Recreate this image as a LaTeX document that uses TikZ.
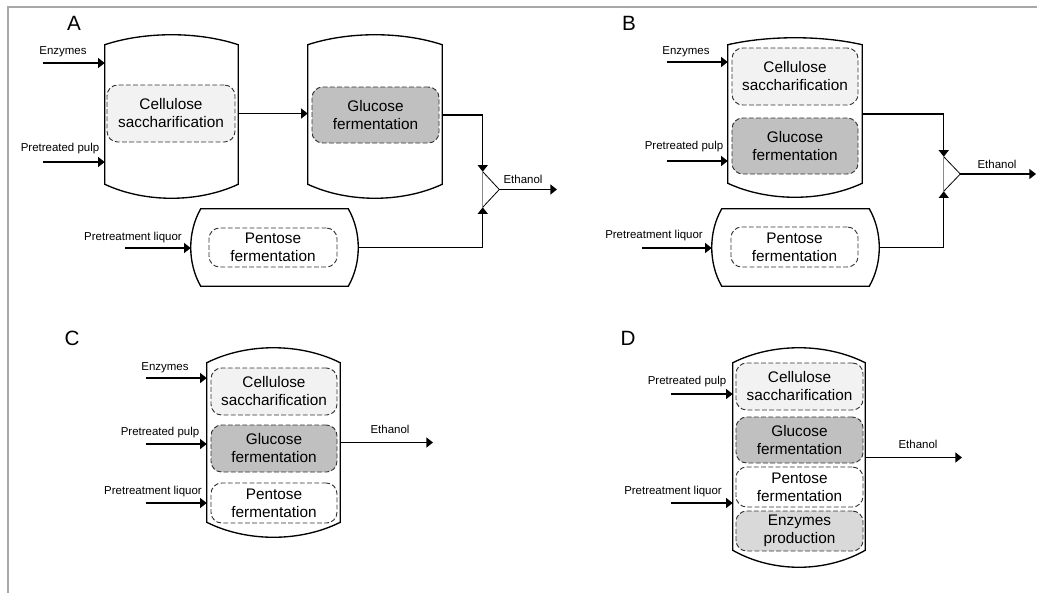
\documentclass[tikz,border=0pt]{standalone}
\usepackage{fontspec}
\setmainfont{Liberation Sans}
\usetikzlibrary{arrows.meta,calc}

\definecolor{sacgray}{HTML}{F2F2F2}
\definecolor{glugray}{HTML}{C0C0C0}
\definecolor{enzgray}{HTML}{D9D9D9}
\definecolor{framegray}{HTML}{A8A8A8}

% upright tank round a node: name, top bulge, bottom bulge (px)
\newcommand{\vtank}[3]{%
  \draw[vessel] ($(#1.north west)+(0,#2)$)
    .. controls ($(#1.north west)!.3!(#1.north east)+(0,-#2/3)$)
           and ($(#1.north west)!.7!(#1.north east)+(0,-#2/3)$) .. ($(#1.north east)+(0,#2)$)
    -- ($(#1.south east)+(0,-#3)$)
    .. controls ($(#1.south east)!.3!(#1.south west)+(0,#3/3)$)
           and ($(#1.south east)!.7!(#1.south west)+(0,#3/3)$) .. ($(#1.south west)+(0,-#3)$)
    -- cycle;}
% lying tank round a node: name, side bulge (px)
\newcommand{\htank}[2]{%
  \draw[vessel] ($(#1.north west)+(#2,0)$) -- ($(#1.north east)+(-#2,0)$)
    .. controls ($(#1.north east)!.3!(#1.south east)+(#2/3,0)$)
           and ($(#1.north east)!.7!(#1.south east)+(#2/3,0)$) .. ($(#1.south east)+(-#2,0)$)
    -- ($(#1.south west)+(#2,0)$)
    .. controls ($(#1.south west)!.3!(#1.north west)+(-#2/3,0)$)
           and ($(#1.south west)!.7!(#1.north west)+(-#2/3,0)$) .. ($(#1.north west)+(#2,0)$)
    -- cycle;}

\begin{document}
\begin{tikzpicture}[x=0.75pt, y=-0.75pt, font=\fontsize{8.6}{10}\selectfont,
  dims/.style 2 args={minimum width=#1*0.75pt, minimum height=#2*0.75pt, inner sep=0pt},
  vessel/.style={line width=1pt},
  feed/.style={line width=1pt, -{Triangle[length=5pt, width=7.5pt]}},
  stage/.style={draw=black!80, line width=0.7pt, dash pattern=on 3.6pt off 1.8pt,
    rounded corners=8pt, align=center, font=\fontsize{11.5}{13.5}\selectfont},
  sac/.style={stage, fill=sacgray},
  glu/.style={stage, fill=glugray},
  pen/.style={stage, fill=white},
  enz/.style={stage, fill=enzgray},
  panel/.style={font=\fontsize{15.5}{18}\selectfont}]

\useasboundingbox (0,0) rectangle (1037,593);
\draw[framegray, line width=1.2pt] (1037,7) -- (8,7) -- (8,593);

% A
\node[panel] (labA) at (74,23) {A};
\node[dims={133}{163}] (a1) at (171.5,116.5) {};
\node[dims={134}{163}] (a2) at (375,116.5) {};
\node[dims={167}{77}] (a3) at (274.5,247.5) {};
\vtank{a1}{10}{14}
\vtank{a2}{10}{14}
\htank{a3}{10}
\node[sac, dims={128}{57}] (a1sac) at (171,113.5) {Cellulose\\saccharification};
\node[glu, dims={127}{56}] (a2glu) at (375.5,115) {Glucose\\fermentation};
\node[pen, dims={128}{39}] (a3pen) at (273,247.5) {Pentose\\fermentation};
\coordinate (aenz) at (43,63);
\coordinate (apulp) at (43,162);
\coordinate (aliq) at (125,248);
\node (aenzt) at (63,52) {Enzymes};
\node (apulpt) at (60,149) {Pretreated pulp};
\node (aliqt) at (133,238) {Pretreatment liquor};
\draw[feed] (aenz) -- (aenz -| a1.west);
\draw[feed] (apulp) -- (apulp -| a1.west);
\draw[feed] (aliq) -- (aliq -| a3.west);
\draw[feed] (a1sac -| a1.east) -- (a1sac -| a2.west);
\node[dims={16}{35}] (amix) at (491,189.5) {};
\draw[line width=0.6pt] (amix.north west) -- (amix.east) -- (amix.south west);
\draw[black!45, line width=0.4pt] (amix.north west) -- (amix.south west);
\draw[feed] (a2glu -| a2.east) -| (amix.north west);
\draw[feed] (a3.east) -| (amix.south west);
\coordinate (aout) at (557,189.5);
\draw[feed] (amix.east) -- (aout);
\node (aetht) at (523,179) {Ethanol};

% B
\node[panel] (labB) at (629,23) {B};
\node[dims={134}{159}] (b1) at (795,117.5) {};
\node[dims={167}{77}] (b2) at (795.5,247.5) {};
\vtank{b1}{7}{14}
\htank{b2}{10}
\node[sac, dims={126}{57}] (b1sac) at (795,76.5) {Cellulose\\saccharification};
\node[glu, dims={126}{56}] (b1glu) at (795,146) {Glucose\\fermentation};
\node[pen, dims={127}{40}] (b2pen) at (794.5,247) {Pentose\\fermentation};
\coordinate (benz) at (667,62);
\coordinate (bpulp) at (667,161);
\coordinate (bliq) at (642,248);
\node (benzt) at (686,52) {Enzymes};
\node (bpulpt) at (684,147) {Pretreated pulp};
\node (bliqt) at (654,236) {Pretreatment liquor};
\draw[feed] (benz) -- (benz -| b1.west);
\draw[feed] (bpulp) -- (bpulp -| b1.west);
\draw[feed] (bliq) -- (bliq -| b2.west);
\node[dims={16}{34}] (bmix) at (952,174) {};
\draw[line width=0.6pt] (bmix.north west) -- (bmix.east) -- (bmix.south west);
\draw[black!45, line width=0.4pt] (bmix.north west) -- (bmix.south west);
\draw[feed] ([yshift=2.6pt]b1.east) -| (bmix.north west);
\draw[feed] (b2.east) -| (bmix.south west);
\coordinate (bout) at (1036,174);
\draw[feed] (bmix.east) -- (bout);
\node (betht) at (997,164) {Ethanol};

% C
\node[panel] (labC) at (72,338) {C};
\node[dims={133}{189}] (c1) at (273.5,442.5) {};
\vtank{c1}{15}{15}
\node[sac, dims={126}{47}] (c1sac) at (274,391.5) {Cellulose\\saccharification};
\node[glu, dims={126}{47}] (c1glu) at (274,448.5) {Glucose\\fermentation};
\node[pen, dims={126}{40}] (c1pen) at (274,503) {Pentose\\fermentation};
\coordinate (cenz) at (146,378);
\coordinate (cpulp) at (146,444);
\coordinate (cliq) at (146,503);
\node (cenzt) at (165,368) {Enzymes};
\node (cpulpt) at (160,433) {Pretreated pulp};
\node (cliqt) at (153,492) {Pretreatment liquor};
\draw[feed] (cenz) -- (cenz -| c1.west);
\draw[feed] (cpulp) -- (cpulp -| c1.west);
\draw[feed] (cliq) -- (cliq -| c1.west);
\coordinate (cout) at (433,442.5);
\draw[feed] (c1.east) -- (cout);
\node (cetht) at (390,429) {Ethanol};

% D
\node[panel] (labD) at (628,338) {D};
\node[dims={132}{219}] (d1) at (799,457.5) {};
\vtank{d1}{15}{17}
\node[sac, dims={127}{47}] (d1sac) at (799.5,386.5) {Cellulose\\saccharification};
\node[glu, dims={127}{46}] (d1glu) at (799.5,440) {Glucose\\fermentation};
\node[pen, dims={127}{40}] (d1pen) at (799.5,487) {Pentose\\fermentation};
\node[enz, dims={127}{40}] (d1enz) at (799.5,531) {Enzymes\\production};
\coordinate (dpulp) at (671,394);
\coordinate (dliq) at (671,503);
\node (dpulpt) at (687,382) {Pretreated pulp};
\node (dliqt) at (673,492) {Pretreatment liquor};
\draw[feed] (dpulp) -- (dpulp -| d1.west);
\draw[feed] (dliq) -- (dliq -| d1.west);
\coordinate (dout) at (962,457.5);
\draw[feed] (d1.east) -- (dout);
\node (detht) at (918,444) {Ethanol};
\end{tikzpicture}
\end{document}
